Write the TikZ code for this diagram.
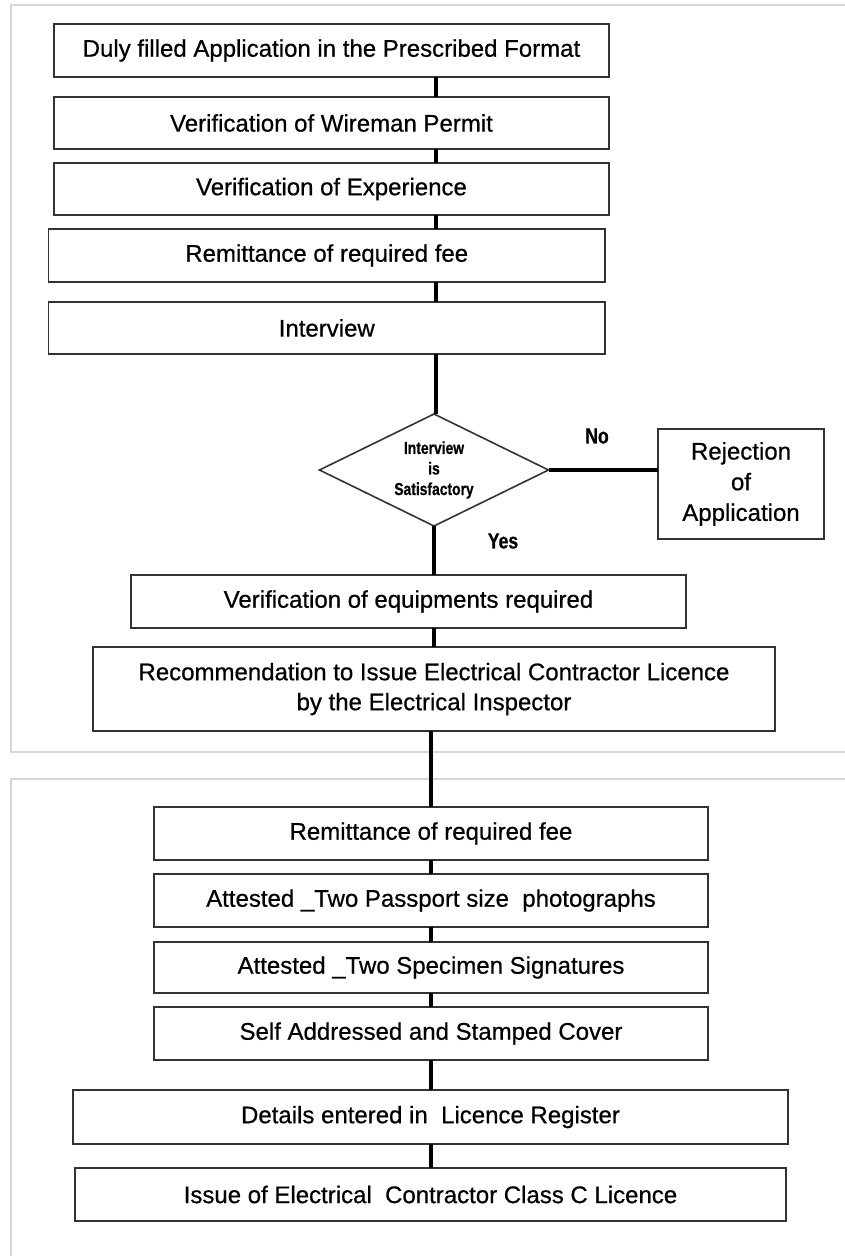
\documentclass[tikz,border=0pt]{standalone}
\usepackage{fontspec}
\setmainfont[FakeBold=0.6]{Liberation Sans}
\newfontfamily\narrowf[FakeStretch=0.8,FakeBold=0.6]{Liberation Sans}
\usetikzlibrary{shapes.geometric}
\tikzset{
  stepbox/.style 2 args={draw=black!80, line width=1.4pt, fill=white, rectangle,
    minimum width=#1*0.75pt, minimum height=#2*0.75pt, inner sep=0pt, outer sep=0pt,
    align=center, font=\fontsize{18}{22.5}\selectfont},
  panel/.style={draw=black!16, line width=1.5pt},
  link/.style={draw=black, line width=2.6pt},
  decision/.style={diamond, draw=black!80, line width=1.2pt, fill=white,
    minimum width=229*0.75pt, minimum height=112*0.75pt, aspect=2.04, inner sep=0pt,
    outer sep=0pt, align=center, font=\narrowf\bfseries\fontsize{13}{15.4}\selectfont},
  lbl/.style={font=\narrowf\bfseries\fontsize{16.5}{18}\selectfont, inner sep=0pt}
}
\begin{document}
\begin{tikzpicture}[x=0.75pt,y=-0.75pt]
\useasboundingbox (0,0) rectangle (845,1256);
\fill[white] (0,0) rectangle (845,1256);
\clip (0,0) rectangle (845,1256);
% panels
\draw[panel] (11,5) rectangle (870,752);
\draw[panel] (11,779) rectangle (870,1280);
% nodes
\node[stepbox={555}{53}] (b1) at (331.5,50.5) {Duly filled Application in the Prescribed Format};
\node[stepbox={555}{52}] (b2) at (331.5,123) {Verification of Wireman Permit};
\node[stepbox={555}{52}] (b3) at (331.5,189) {Verification of Experience};
\node[stepbox={556.5}{53}] (b4) at (326.75,255.5) {Remittance of required fee};
\node[stepbox={556.5}{52}] (b5) at (326.75,328) {Interview};
\node[decision] (d) at (434,470) {Interview\\is\\Satisfactory};
\node[stepbox={166}{110}, font=\fontsize{18}{23}\selectfont] (r) at (741,484) {Rejection\\of\\Application};
\node[stepbox={555}{53}] (b6) at (408.5,601.5) {Verification of equipments required};
\node[stepbox={682}{84}] (b7) at (434,689) {Recommendation to Issue Electrical Contractor Licence\\by the Electrical Inspector};
\node[stepbox={554}{53}] (b8) at (431,833.5) {Remittance of required fee};
\node[stepbox={554}{53}] (b9) at (431,900.5) {Attested \_Two Passport size~ photographs};
\node[stepbox={554}{51}] (b10) at (431,967.5) {Attested \_Two Specimen Signatures};
\node[stepbox={554}{53}] (b11) at (431,1033.5) {Self Addressed and Stamped Cover};
\node[stepbox={715}{54}] (b12) at (430.5,1117) {Details entered in~ Licence Register};
\node[stepbox={711}{53}] (b13) at (430.5,1194.5) {Issue of Electrical~ Contractor Class C Licence};
\node[lbl] (no) at (597,436) {No};
\node[lbl] (yes) at (503,541) {Yes};
% connectors
\coordinate (tx) at (436,0);
\draw[link] (b1.south -| tx) -- (b2.north -| tx);
\draw[link] (b2.south -| tx) -- (b3.north -| tx);
\draw[link] (b3.south -| tx) -- (b4.north -| tx);
\draw[link] (b4.south -| tx) -- (b5.north -| tx);
\draw[link] (b5.south -| tx) -- (d.north -| tx);
\draw[link] (d.east) -- (d.east -| r.west);
\draw[link] (d.south) -- (b6.north -| d);
\draw[link] (b6.south -| d) -- (b7.north -| d);
\draw[link] (b7.south -| b8) -- (b8.north);
\draw[link] (b8.south) -- (b9.north);
\draw[link] (b9.south) -- (b10.north);
\draw[link] (b10.south) -- (b11.north);
\draw[link] (b11.south) -- (b12.north -| b11);
\draw[link] (b12.south -| b11) -- (b13.north -| b11);
\end{tikzpicture}
\end{document}
